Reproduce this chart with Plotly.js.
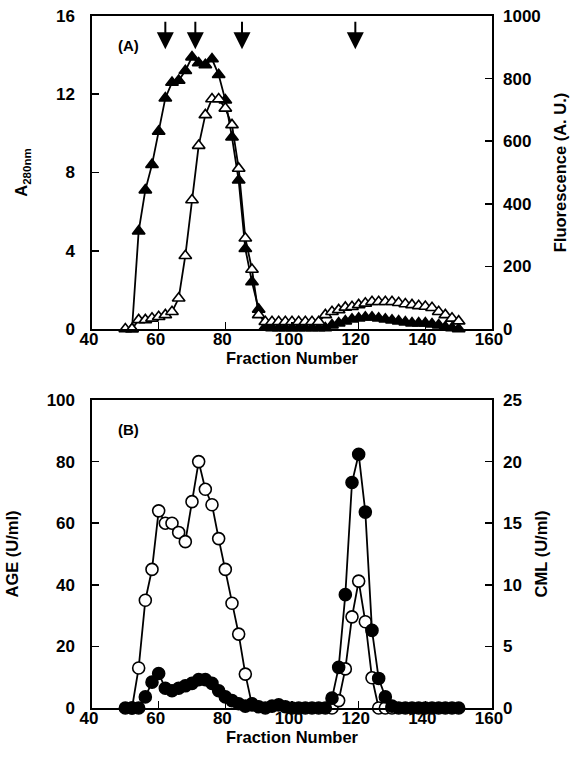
<!DOCTYPE html>
<html><head><meta charset="utf-8">
<script src="https://cdn.plot.ly/plotly-3.0.1.min.js"></script>
<style>html,body{margin:0;padding:0;background:#fff}#chart{width:580px;height:774px}</style>
</head><body><div id="chart"></div><script>
// ---------- Panel A data ----------
const fracA280 = [52,54,56,58,60,62,64,66,68,70,72,74,76,78,80,82,84,86,88,90,92,94,96,98,100,102,104,106,108,110,112,114,116,118,120,122,124,126,128,130,132,134,136,138,140,142,144,146,148,150];
const a280 = [0,5.0,7.1,8.4,10.1,11.8,12.6,12.7,13.2,13.9,13.6,13.5,13.8,13.0,11.7,9.8,7.6,4.1,2.4,1.0,0.1,0.05,0.05,0.05,0.05,0.05,0.05,0.05,0.05,0.05,0.2,0.3,0.4,0.5,0.55,0.6,0.6,0.55,0.5,0.45,0.4,0.35,0.3,0.3,0.3,0.25,0.2,0.1,0.05,0];
const fracFluor = [50,52,54,56,58,60,62,64,66,68,70,72,74,76,78,80,82,84,86,88,90,92,94,96,98,100,102,104,106,108,110,112,114,116,118,120,122,124,126,128,130,132,134,136,138,140,142,144,146,148,150];
const fluor = [0,0,29,29,34,39,45,55,98,234,412,586,684,735,735,705,652,513,290,190,45,23,23,23,23,23,23,23,23,23,45,55,61,69,71,77,82,87,87,87,87,84,80,77,74,72,68,55,45,34,25];
const arrowFractions = [62,71,85,119];

// ---------- Panel B data ----------
const fracAGE = [52,54,56,58,60,62,64,66,68,70,72,74,76,78,80,82,84,86,88,90,92,94,96,98,100,102,104,106,108,110,112,114,116,118,120,122,124,126,128,130];
const age = [0,13,35,45,64,60,60,57,54,67,80,71,66,55,45,34,24,11,1,null,null,null,null,null,null,null,null,null,null,null,0,2.4,12.7,29.6,41.2,28,9.8,0,0,0];
const fracCML = [50,52,54,56,58,60,62,64,66,68,70,72,74,76,78,80,82,84,86,88,90,92,94,96,98,100,102,104,106,108,110,112,114,116,118,120,122,124,126,128,130,132,134,136,138,140,142,144,146,148,150];
const cml = [0,0,0,0.9,2.1,2.8,1.6,1.4,1.6,1.8,2.0,2.3,2.3,2.0,1.4,0.9,0.6,0.35,0.15,0.35,0.1,0,0.15,0.25,0.1,0,0,0,0,0,0,0.8,3.3,9.2,18.3,20.6,15.9,6.3,2.4,0.9,0.15,0,0,0,0,0,0,0,0,0,0];

// ---------- tick labels ----------
const xTicks = [40,60,80,100,120,140,160];
const a280Ticks = [0,4,8,12,16];
const fluorTicks = [0,200,400,600,800,1000];
const ageTicks = [0,20,40,60,80,100];
const cmlTicks = [0,5,10,15,20,25];

const FONT = {family:'Liberation Sans, Arial, sans-serif', size:17, color:'#000', weight:'bold'};
const TFONT = {family:'Liberation Sans, Arial, sans-serif', size:16.5, color:'#000', weight:'bold'};
const LW = 1.6;

function lineTrace(x, y, xa, ya, symbol, filled, size){
  return {
    x:x, y:y, xaxis:xa, yaxis:ya, type:'scatter', mode:'lines+markers', cliponaxis:false,
    line:{color:'#000', width:1.8},
    marker:{symbol:symbol, size:size, color: filled ? '#000' : '#fff', line:{color:'#000', width:1.6}},
    connectgaps:false, showlegend:false, hoverinfo:'skip'
  };
}

const data = [
  lineTrace(fracFluor, fluor, 'x', 'y2', 'triangle-up', false, 11),
  lineTrace(fracA280, a280, 'x', 'y', 'triangle-up', true, 11),
  lineTrace(fracAGE, age, 'x2', 'y3', 'circle', false, 12),
  lineTrace(fracCML, cml, 'x2', 'y4', 'circle', true, 12)
];

function xAxis(anchor, lblOff, titleOff){
  return {domain:[0,1], anchor:anchor, range:[40,160], tickvals:xTicks, ticktext:xTicks.map(String),
    ticks:'inside', ticklen:7, tickwidth:LW, tickcolor:'#000', showline:true, linewidth:LW, linecolor:'#000',
    mirror:true, showgrid:false, zeroline:false, tickfont:FONT, ticklabelstandoff:lblOff, ticklabelshift:-3,
    title:{text:'Fraction Number', font:TFONT, standoff:titleOff}};
}
function yAxis(domain, range, ticks, title, side, overlay, anchor){
  const ax = {range:range, tickvals:ticks, ticktext:ticks.map(String), ticks:'inside', ticklen:7, tickwidth:LW,
    tickcolor:'#000', showline:true, linewidth:LW, linecolor:'#000', showgrid:false, zeroline:false,
    tickfont:FONT, side:side, anchor:anchor, title:{text:title, font:TFONT, standoff: side==='left'?24:14},
    ticklabelstandoff: side==='left'?12:6};
  if (overlay) ax.overlaying = overlay; else ax.domain = domain;
  return ax;
}

const annotations = [
  {xref:'x domain', yref:'y domain', x:0.06, y:0.939, text:'(A)', showarrow:false, font:{family:'Liberation Sans, Arial', size:15, weight:'bold', color:'#000'}},
  {xref:'x2 domain', yref:'y3 domain', x:0.06, y:0.938, text:'(B)', showarrow:false, font:{family:'Liberation Sans, Arial', size:15, weight:'bold', color:'#000'}}
];
arrowFractions.forEach(f => annotations.push({
  xref:'x', yref:'y', x:f, y:14.3, text:'', showarrow:true, arrowhead:2, arrowsize:1.7, arrowwidth:2,
  arrowcolor:'#000', ax:0, ay:-29, standoff:0
}));

const layout = {
  width:580, height:774, paper_bgcolor:'#fff', plot_bgcolor:'#fff',
  margin:{l:92, r:88, t:16, b:66},
  showlegend:false,
  xaxis: xAxis('y', -6, 0),
  yaxis: yAxis([0.5477,1], [0,16], a280Ticks, 'A<sub>280nm</sub>', 'left', null, 'x'),
  yaxis2: yAxis(null, [0,1000], fluorTicks, 'Fluorescence (A. U.)', 'right', 'y', 'x'),
  xaxis2: xAxis('y3', -6, 0),
  yaxis3: yAxis([0,0.4451], [0,100], ageTicks, 'AGE (U/ml)', 'left', null, 'x2'),
  yaxis4: yAxis(null, [0,25], cmlTicks, 'CML (U/ml)', 'right', 'y3', 'x2'),
  annotations: annotations
};

Plotly.newPlot('chart', data, layout, {staticPlot:true, displayModeBar:false});
</script></body></html>
